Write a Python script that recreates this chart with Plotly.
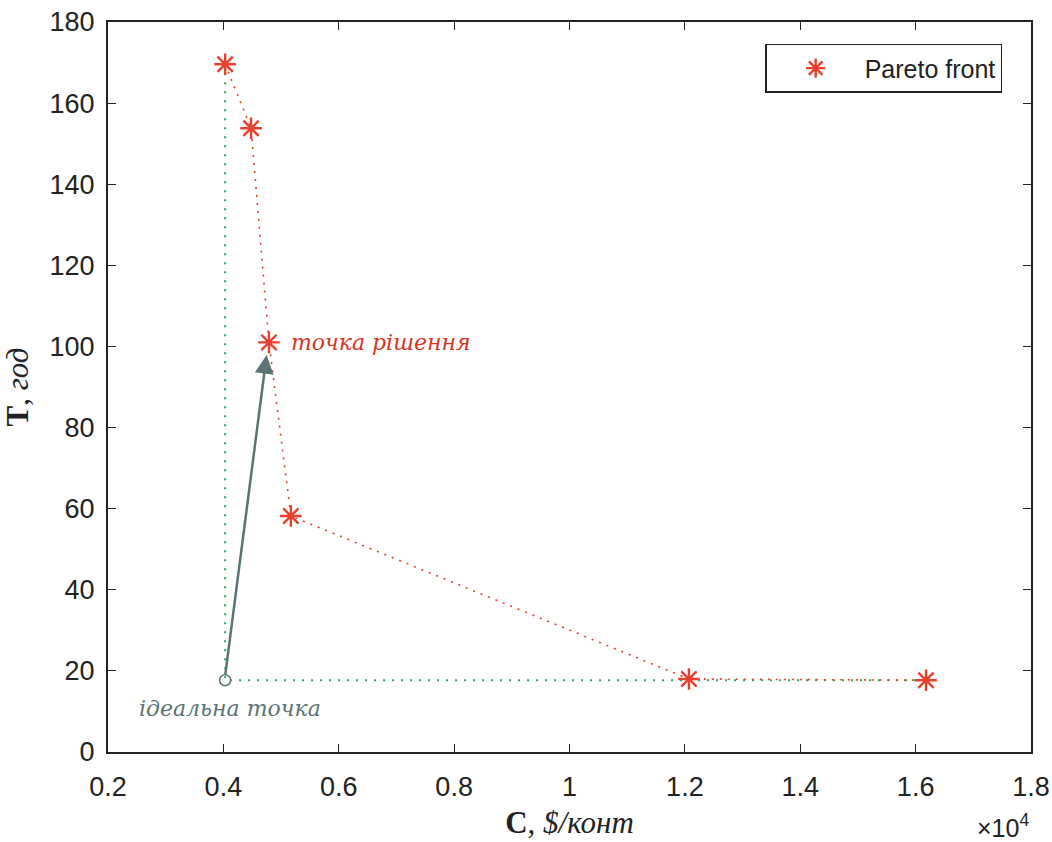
import plotly.graph_objects as go

# Pareto front data (C in $/конт, T in год)
cost = [4030, 4480, 4790, 5170, 12070, 16180]
time = [169.6, 153.8, 101.0, 58.2, 18.0, 17.7]

# ideal point (min C, min T) and chosen solution
ideal_c = 4030
ideal_t = 17.7
solution_idx = 2
arrow_tip_t = 97.9
arrow_tip_c = 4750

x_tickvals = [2000, 4000, 6000, 8000, 10000, 12000, 14000, 16000, 18000]
x_ticktext = ["0.2", "0.4", "0.6", "0.8", "1", "1.2", "1.4", "1.6", "1.8"]
y_tickvals = [0, 20, 40, 60, 80, 100, 120, 140, 160, 180]

RED = "#e8402c"
GREEN = "#2aa85a"
SLATE = "#5b7373"
INK = "#222222"

fig = go.Figure()

# green guide lines from ideal point
fig.add_trace(go.Scatter(
    x=[cost[0], ideal_c, cost[-1]],
    y=[time[0], ideal_t, ideal_t],
    mode="lines",
    line=dict(color=GREEN, width=2, dash="2px,7px"),
    showlegend=False, hoverinfo="skip"))

# red dotted connecting line
fig.add_trace(go.Scatter(
    x=cost, y=time, mode="lines",
    line=dict(color=RED, width=1.6, dash="2px,6px"),
    showlegend=False, hoverinfo="skip"))

# Pareto front markers
fig.add_trace(go.Scatter(
    x=cost, y=time, mode="markers", name="Pareto front",
    marker=dict(symbol="asterisk-open", size=18, color=RED,
                line=dict(color=RED, width=2.4))))

# ideal point
fig.add_trace(go.Scatter(
    x=[ideal_c], y=[ideal_t], mode="markers",
    marker=dict(symbol="circle-open", size=11, color=SLATE,
                line=dict(color=SLATE, width=1.5)),
    showlegend=False, hoverinfo="skip"))

annotations = [
    dict(x=arrow_tip_c, y=arrow_tip_t, ax=ideal_c, ay=ideal_t + 1.0,
         xref="x", yref="y", axref="x", ayref="y",
         showarrow=True, arrowhead=2, arrowsize=1.5, arrowwidth=2.5,
         arrowcolor=SLATE, text=""),
    dict(x=cost[solution_idx], y=time[solution_idx], xref="x", yref="y",
         text="<i>точка рішення</i>", showarrow=False,
         xanchor="left", yanchor="middle", xshift=20,
         font=dict(family="DejaVu Serif", size=22, color="#d93328")),
    dict(x=ideal_c, y=ideal_t, xref="x", yref="y",
         text="<i>ідеальна точка</i>", showarrow=False,
         xanchor="left", yanchor="middle", xshift=-88, yshift=-28,
         font=dict(family="DejaVu Serif", size=22, color=SLATE)),
    dict(x=1.0, y=0, xref="paper", yref="paper",
         text="×10<sup>4</sup>", showarrow=False,
         xanchor="right", yanchor="top", yshift=-56,
         font=dict(family="Liberation Sans, Arial", size=25, color=INK)),
]

fig.update_layout(
    width=1052, height=842,
    margin=dict(l=108, r=21, t=22, b=90, autoexpand=False),
    paper_bgcolor="white", plot_bgcolor="white",
    font=dict(family="Liberation Sans, Arial", size=27, color=INK),
    annotations=annotations,
    legend=dict(x=0.712, y=0.970, xanchor="left", yanchor="top",
                bgcolor="white", bordercolor=INK, borderwidth=1.5,
                itemwidth=88, font=dict(size=25, color=INK)),
    xaxis=dict(range=[2000, 18000], tickvals=x_tickvals, ticktext=x_ticktext,
               automargin=False,
               showgrid=False, zeroline=False, showline=True, linecolor=INK,
               linewidth=2, mirror="ticks", ticks="inside", ticklen=8,
               tickcolor=INK, tickwidth=1.2, ticklabelstandoff=10,
               title=dict(text="<b>C</b>, <i>$/конт</i>",
                          font=dict(family="Liberation Serif", size=31, color=INK),
                          standoff=10)),
    yaxis=dict(range=[0, 180], tickvals=y_tickvals,
               automargin=False,
               showgrid=False, zeroline=False, showline=True, linecolor=INK,
               linewidth=2, mirror="ticks", ticks="inside", ticklen=8,
               tickcolor=INK, tickwidth=1.2, ticklabelstandoff=6,
               title=dict(text="<b>T</b>, <i>год</i>",
                          font=dict(family="Liberation Serif", size=31, color=INK),
                          standoff=12)),
)

fig.write_html("out.html")
